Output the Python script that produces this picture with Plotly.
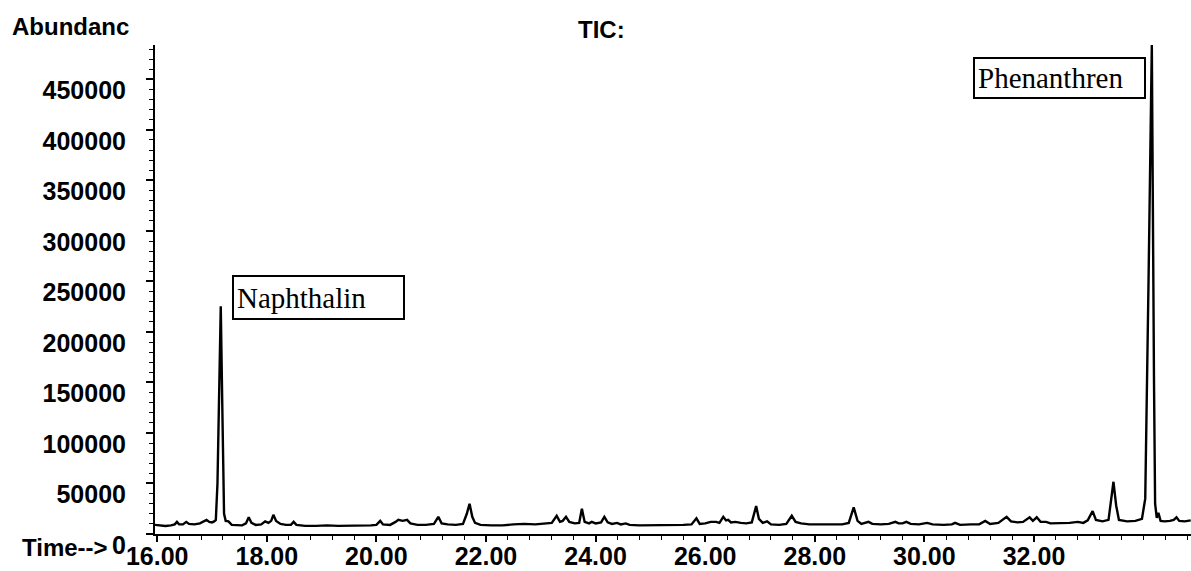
import plotly.graph_objects as go

# Retention time (min) and abundance
time_min = [
    15.96, 16.05, 16.15, 16.25, 16.32, 16.36, 16.40, 16.47, 16.53, 16.58,
    16.68, 16.78, 16.86, 16.90, 16.95, 17.00, 17.04, 17.07, 17.10, 17.13,
    17.16, 17.19, 17.22, 17.25, 17.30, 17.36, 17.45, 17.55, 17.62, 17.67,
    17.72, 17.80, 17.90, 17.97, 18.03, 18.08, 18.12, 18.17, 18.25, 18.35,
    18.44, 18.49, 18.54, 18.70, 18.90, 19.10, 19.30, 19.50, 19.70, 19.90,
    20.00, 20.07, 20.12, 20.25, 20.35, 20.40, 20.48, 20.56, 20.62, 20.75,
    20.90, 21.05, 21.13, 21.19, 21.30, 21.45, 21.58, 21.65, 21.70, 21.75,
    21.80, 21.90, 22.10, 22.30, 22.50, 22.70, 22.90, 23.10, 23.20, 23.29,
    23.35, 23.40, 23.46, 23.52, 23.62, 23.70, 23.75, 23.80, 23.88, 23.93,
    24.00, 24.10, 24.16, 24.22, 24.30, 24.39, 24.46, 24.55, 24.62, 24.80,
    25.00, 25.20, 25.40, 25.60, 25.75, 25.84, 25.90, 26.00, 26.10, 26.20,
    26.26, 26.33, 26.38, 26.42, 26.47, 26.55, 26.65, 26.75, 26.85, 26.93,
    26.98, 27.05, 27.13, 27.20, 27.35, 27.48, 27.58, 27.65, 27.75, 27.90,
    28.10, 28.30, 28.50, 28.62, 28.71, 28.78, 28.85, 28.98, 29.05, 29.20,
    29.35, 29.47, 29.53, 29.60, 29.67, 29.75, 29.90, 30.05, 30.15, 30.35,
    30.50, 30.56, 30.65, 30.85, 31.00, 31.11, 31.20, 31.35, 31.50, 31.58,
    31.70, 31.80, 31.92, 31.98, 32.05, 32.12, 32.22, 32.30, 32.50, 32.65,
    32.80, 32.90, 32.98, 33.07, 33.13, 33.25, 33.36, 33.41, 33.45, 33.50,
    33.55, 33.70, 33.85, 33.97, 34.03, 34.09, 34.15, 34.19, 34.21, 34.24,
    34.27, 34.31, 34.38, 34.48, 34.55, 34.60, 34.65, 34.75, 34.86,
]
abundance = [
    9000, 8500, 8000, 8500, 9500, 12000, 9500, 9500, 12000, 10000,
    9500, 10500, 12500, 14000, 12000, 11500, 12500, 14000, 50000, 140000,
    225500, 120000, 20000, 13000, 12500, 9000, 8500, 8500, 10500, 16500,
    11000, 9000, 9500, 12500, 11000, 13000, 19000, 13000, 10000, 9000,
    9000, 12000, 9000, 8000, 8000, 8500, 8000, 8000, 8500, 8500,
    9000, 13000, 9500, 9000, 12000, 14000, 13000, 14000, 10500, 9000,
    9000, 10000, 17000, 10500, 9500, 9000, 10000, 20000, 30000, 17000,
    11000, 9000, 8500, 8500, 9500, 10000, 9500, 10500, 11000, 18000,
    12000, 13000, 17000, 12000, 10500, 11000, 25000, 12000, 10500, 12000,
    10500, 11500, 17000, 11500, 10000, 11000, 9500, 10500, 9000, 8500,
    8500, 9000, 8500, 9000, 9500, 15500, 10000, 10500, 12000, 12000,
    11000, 17000, 13500, 14000, 11500, 12000, 11000, 10500, 11500, 27700,
    15000, 11000, 12500, 9500, 9000, 10000, 18000, 12000, 10500, 9500,
    9500, 9500, 9500, 11000, 26400, 13000, 10000, 12000, 10000, 9500,
    10000, 12000, 10500, 10500, 12000, 10000, 9500, 11000, 9500, 9000,
    9500, 11000, 9000, 9500, 9500, 13000, 10000, 11000, 17000, 12500,
    11500, 12000, 16500, 13000, 16500, 12000, 12000, 10500, 10500, 11000,
    12000, 11000, 13500, 22700, 14000, 12500, 14000, 35000, 51700, 28000,
    14000, 12500, 13000, 15000, 35000, 250000, 484000, 150000, 30000, 16000,
    21000, 13000, 12500, 13000, 14000, 16500, 13000, 12500, 13500,
]

x_tick_vals = [16, 18, 20, 22, 24, 26, 28, 30, 32]
x_tick_text = ["16.00", "18.00", "20.00", "22.00", "24.00", "26.00", "28.00", "30.00", "32.00"]
y_tick_vals = [0, 50000, 100000, 150000, 200000, 250000, 300000, 350000, 400000, 450000]
y_tick_text = ["0", "50000", "100000", "150000", "200000", "250000", "300000", "350000", "400000", "450000"]

peak_names = ["Naphthalin", "Phenanthren"]
label_x = [17.369, 30.891]
label_y = [256200, 471800]
label_h = [35, 32]

W, H = 1191, 571
ML, MR, MT, MB = 155, 0, 45, 37
PW, PH = W - ML - MR, H - MT - MB

def px(x):
    return (x - ML) / PW

def py(y):
    return (H - MB - y) / PH

sans = "Liberation Sans, Arial, sans-serif"
serif = "Liberation Serif, Times New Roman, serif"

fig = go.Figure()
fig.add_trace(go.Scatter(x=time_min, y=abundance, mode="lines",
                         line=dict(color="black", width=2.4), showlegend=False,
                         hoverinfo="skip"))

annotations = []
for name, xv, yv, hh in zip(peak_names, label_x, label_y, label_h):
    annotations.append(dict(
        x=xv, y=yv, xref="x", yref="y", xanchor="left", yanchor="top",
        text=name, showarrow=False, align="left", valign="middle",
        width=163, height=hh, bordercolor="black", borderwidth=2, borderpad=3,
        bgcolor="white", font=dict(family=serif, size=29, color="black")))

annotations += [
    dict(x=px(70), y=py(27), xref="paper", yref="paper", text="<b>Abundanc</b>",
         showarrow=False, xanchor="center", yanchor="middle",
         font=dict(family=sans, size=24, color="black")),
    dict(x=px(601), y=py(30), xref="paper", yref="paper", text="<b>TIC:</b>",
         showarrow=False, xanchor="center", yanchor="middle",
         font=dict(family=sans, size=24, color="black")),
    dict(x=px(110), y=py(547), xref="paper", yref="paper", text="<b>Time--></b>",
         showarrow=False, xanchor="right", yanchor="middle",
         font=dict(family=sans, size=24, color="black")),
]

fig.update_layout(
    width=W, height=H,
    margin=dict(l=ML, r=MR, t=MT, b=MB, pad=0),
    paper_bgcolor="white", plot_bgcolor="white",
    annotations=annotations,
    font=dict(family=sans, color="black"),
)
fig.update_xaxes(
    range=[15.96, 34.865], showgrid=False, zeroline=False, automargin=False,
    showline=True, linecolor="black", linewidth=2,
    tickmode="array", tickvals=x_tick_vals, ticktext=["<b>%s</b>" % t for t in x_tick_text],
    ticks="outside", ticklen=6, tickwidth=1.5, tickcolor="black",
    tickfont=dict(family=sans, size=25, color="black"),
    ticklabelstandoff=-7,
    minor=dict(tickmode="linear", tick0=16, dtick=0.4, ticks="outside",
               ticklen=4, tickwidth=1.2, tickcolor="black"),
)
fig.update_yaxes(
    range=[0, 484000], showgrid=False, zeroline=False, automargin=False,
    showline=True, linecolor="black", linewidth=2,
    tickmode="array", tickvals=y_tick_vals, ticktext=["<b>%s</b>" % t for t in y_tick_text],
    ticks="outside", ticklen=7, tickwidth=1.5, tickcolor="black",
    tickfont=dict(family=sans, size=25, color="black"),
    ticklabelshift=11, ticklabelstandoff=15,
    minor=dict(tickmode="linear", tick0=0, dtick=10000, ticks="outside",
               ticklen=4, tickwidth=1.2, tickcolor="black"),
)

fig.write_html("out.html", config={"displayModeBar": False},
               post_script="document.body.style.margin='0';")
